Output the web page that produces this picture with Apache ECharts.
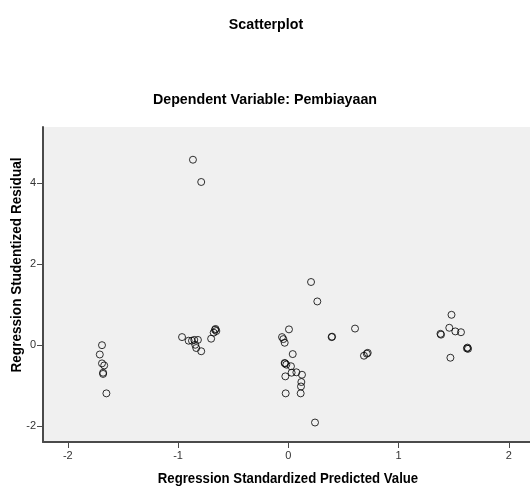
<!DOCTYPE html>
<html>
<head>
<meta charset="utf-8">
<script src="https://cdn.jsdelivr.net/npm/echarts@6.0.0/dist/echarts.min.js"></script>
<style>
  html, body { margin: 0; padding: 0; background: #fff; }
  #chart { width: 530px; height: 490px; }
</style>
</head>
<body>
<div id="chart"></div>
<script>
// predicted value (x) / studentized residual (y)
var predicted = [
  -1.69, -1.71, -1.69, -1.67, -1.68, -1.68, -1.65,
  -0.964, -0.904, -0.874, -0.853, -0.82, -0.844, -0.835, -0.79, -0.70, -0.677, -0.665, -0.653, -0.66,
  -0.865, -0.79,
  0.206, 0.263, 0.006, -0.057, -0.045, -0.033, 0.393, 0.397, 0.605, 0.04, -0.033, -0.03, -0.018,
  0.024, 0.03, 0.073, 0.124, -0.027, 0.118, 0.115, 0.112, -0.024, 0.242, 0.686, 0.712, 0.72,
  1.48, 1.46, 1.515, 1.566, 1.38, 1.385, 1.62, 1.625, 1.63, 1.47
];
var residual = [
  0.0, -0.23, -0.45, -0.50, -0.68, -0.71, -1.19,
  0.20, 0.11, 0.11, 0.13, 0.13, 0.01, -0.07, -0.15, 0.16, 0.31, 0.38, 0.35, 0.40,
  4.58, 4.03,
  1.56, 1.08, 0.39, 0.20, 0.15, 0.06, 0.20, 0.21, 0.41, -0.22, -0.44, -0.45, -0.48,
  -0.52, -0.68, -0.67, -0.73, -0.77, -0.91, -1.02, -1.19, -1.19, -1.91, -0.26, -0.21, -0.19,
  0.75, 0.43, 0.34, 0.32, 0.28, 0.26, -0.08, -0.06, -0.09, -0.31
];
var xTicks = [-2, -1, 0, 1, 2];
var yTicks = [-2, 0, 2, 4];

var points = predicted.map(function (x, i) { return [x, residual[i]]; });

var chart = echarts.init(document.getElementById('chart'));
var font = '"Liberation Sans", Arial, sans-serif';
var axisColor = '#4a4a4a';

// bold black label, squeezed a little like the SPSS output font
function label(text, x, y, size, squeeze, rotate) {
  return {
    type: 'text',
    x: x, y: y,
    rotation: rotate ? Math.PI / 2 : 0,
    scaleX: squeeze, scaleY: 1,
    style: {
      text: text, fontFamily: font, fontSize: size, fontWeight: 'bold', fill: '#000',
      align: 'center', verticalAlign: 'middle'
    }
  };
}

chart.setOption({
  animation: false,
  backgroundColor: '#fff',
  grid: {
    left: 43, top: 127, right: 0, height: 315,
    show: true, backgroundColor: '#f0f0f0', borderWidth: 0
  },
  graphic: [
    label('Scatterplot', 266, 25, 15, 0.95),
    label('Dependent Variable: Pembiayaan', 265, 100, 15, 0.95),
    label('Regression Standardized Predicted Value', 288, 479, 15, 0.88),
    label('Regression Studentized Residual', 17, 265, 14, 0.97, true)
  ],
  xAxis: {
    type: 'value', min: -2.225, max: 2.192,
    axisLine: { show: true, onZero: false, lineStyle: { color: axisColor, width: 2 } },
    axisTick: { show: true, length: 6, customValues: xTicks, lineStyle: { color: axisColor, width: 1 } },
    axisLabel: { customValues: xTicks, margin: 8, fontFamily: font, fontSize: 11, color: '#333' },
    splitLine: { show: false }
  },
  yAxis: {
    type: 'value', min: -2.391, max: 5.388,
    axisLine: { show: true, onZero: false, lineStyle: { color: axisColor, width: 2 } },
    axisTick: { show: true, length: 6, customValues: yTicks, lineStyle: { color: axisColor, width: 1 } },
    axisLabel: { customValues: yTicks, margin: 7, fontFamily: font, fontSize: 11, color: '#333' },
    splitLine: { show: false }
  },
  series: [{
    type: 'scatter',
    data: points,
    symbol: 'circle',
    symbolSize: 7,
    itemStyle: { color: 'rgba(0,0,0,0)', borderColor: '#000', borderWidth: 1 }
  }]
});
</script>
</body>
</html>
